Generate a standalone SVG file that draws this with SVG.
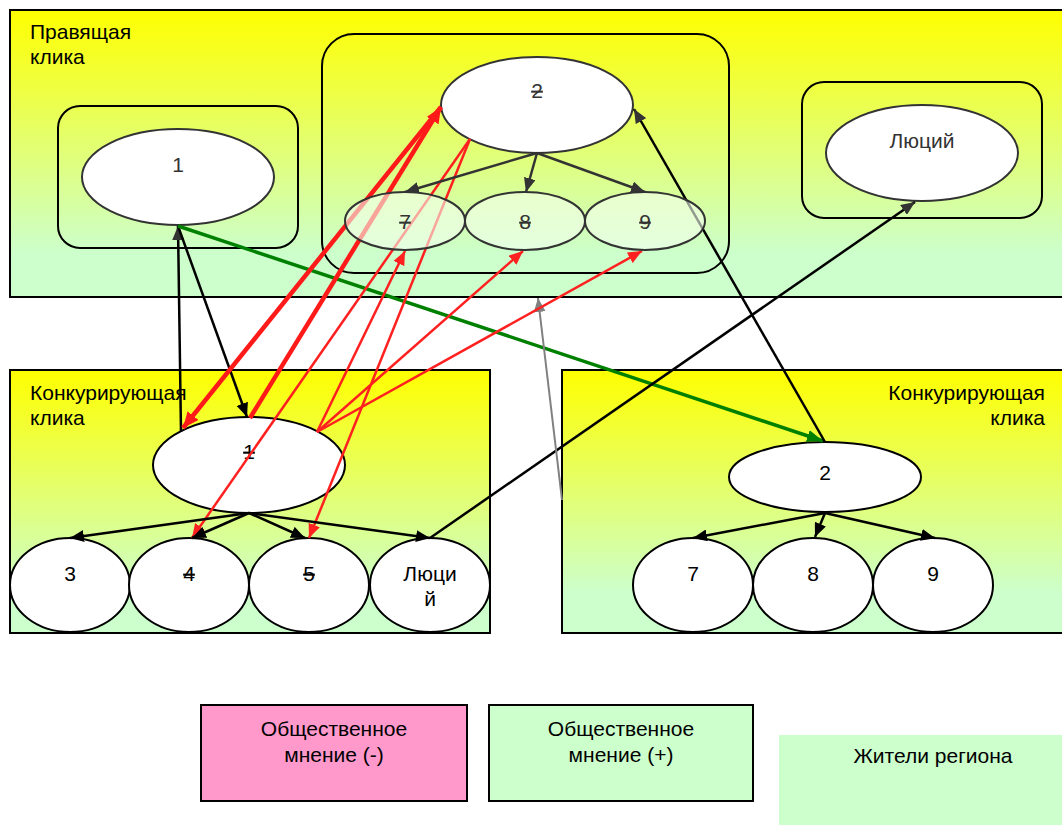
<svg xmlns="http://www.w3.org/2000/svg" width="1062" height="825" viewBox="0 0 1062 825">
<style>
text{font-family:"Liberation Sans",Arial,sans-serif;}
.panel{stroke:#000;stroke-width:2;}
.grp{fill:none;stroke:#000;stroke-width:2;}
.node{fill:#fff;stroke:#000;stroke-width:2;}
.tnode{fill:#fff;stroke:#333;stroke-width:2;}
.sub{fill:#f4ffee;fill-opacity:0.6;stroke:#333;stroke-width:2;}
.lbl{font-size:21px;fill:#000;}
.num{font-size:21px;fill:#000;text-anchor:middle;}
.gnum{font-size:21px;fill:#333;text-anchor:middle;}
.strike{text-decoration:line-through;}
.blk{stroke:#000;stroke-width:2.5;fill:none;}
.dk{stroke:#333;stroke-width:2.5;fill:none;}
.red{stroke:#ff2020;stroke-width:2.5;fill:none;}
.redT{stroke:#ff1a1a;stroke-width:4.5;fill:none;}
.leg{font-size:21px;fill:#000;text-anchor:middle;}
</style>
<defs>
<linearGradient id="gy" x1="0" y1="0" x2="0" y2="1">
<stop offset="0" stop-color="#ffff00"/>
<stop offset="0.85" stop-color="#ccffcc"/>
<stop offset="1" stop-color="#ccffcc"/>
</linearGradient>
<marker id="aB" markerUnits="userSpaceOnUse" markerWidth="14" markerHeight="12" refX="14" refY="6" orient="auto"><path d="M0,0 L14,6 L0,12 z" fill="#000"/></marker>
<marker id="aD" markerUnits="userSpaceOnUse" markerWidth="14" markerHeight="12" refX="14" refY="6" orient="auto"><path d="M0,0 L14,6 L0,12 z" fill="#333"/></marker>
<marker id="aR" markerUnits="userSpaceOnUse" markerWidth="14" markerHeight="12" refX="14" refY="6" orient="auto"><path d="M0,0 L14,6 L0,12 z" fill="#ff2020"/></marker>
<marker id="aRT" markerUnits="userSpaceOnUse" markerWidth="16" markerHeight="14" refX="16" refY="7" orient="auto"><path d="M0,0 L16,7 L0,14 z" fill="#ff1a1a"/></marker>
<marker id="aG" markerUnits="userSpaceOnUse" markerWidth="16" markerHeight="12" refX="16" refY="6" orient="auto"><path d="M0,0 L16,6 L0,12 z" fill="#008000"/></marker>
<marker id="aGr" markerUnits="userSpaceOnUse" markerWidth="14" markerHeight="12" refX="14" refY="6" orient="auto"><path d="M0,0 L14,6 L0,12 z" fill="#808080"/></marker>
</defs>

<g id="panel-ruling">
<rect class="panel" x="10" y="10" width="1060" height="287" fill="url(#gy)"/>
<text class="lbl" x="30" y="39">Правящая</text>
<text class="lbl" x="30" y="64">клика</text>
</g>
<g id="panel-rival-left">
<rect class="panel" x="10" y="370" width="480" height="263" fill="url(#gy)"/>
<text class="lbl" x="30" y="400">Конкурирующая</text>
<text class="lbl" x="30" y="425">клика</text>
</g>
<g id="panel-rival-right">
<rect class="panel" x="562" y="370" width="508" height="263" fill="url(#gy)"/>
<text class="lbl" x="1045" y="400" text-anchor="end">Конкурирующая</text>
<text class="lbl" x="1045" y="425" text-anchor="end">клика</text>
</g>

<g id="group-1"><rect class="grp" x="58" y="106" width="240" height="142" rx="22"/></g>
<g id="group-2"><rect class="grp" x="322" y="34" width="407" height="239" rx="32"/></g>
<g id="group-lucius"><rect class="grp" x="802" y="82" width="240" height="136" rx="22"/></g>

<g id="top-1"><ellipse class="tnode" cx="178" cy="177" rx="96" ry="48"/><text class="gnum" x="178" y="172">1</text></g>
<g id="top-2"><ellipse class="tnode" cx="537" cy="105" rx="96" ry="48"/><text class="gnum strike" x="537" y="98">2</text></g>
<g id="top-lucius"><ellipse class="tnode" cx="922" cy="153" rx="96" ry="48"/><text class="gnum" x="922" y="148">Люций</text></g>

<g id="left-1"><ellipse class="node" cx="249" cy="465" rx="96" ry="48"/><text class="num strike" x="249" y="459">1</text></g>
<g id="left-3"><ellipse class="node" cx="70" cy="585" rx="60" ry="47"/><text class="num" x="70" y="581">3</text></g>
<g id="left-4"><ellipse class="node" cx="189" cy="585" rx="60" ry="47"/><text class="num strike" x="189" y="581">4</text></g>
<g id="left-5"><ellipse class="node" cx="309" cy="585" rx="60" ry="47"/><text class="num strike" x="309" y="581">5</text></g>
<g id="left-lucius"><ellipse class="node" cx="430" cy="585" rx="60" ry="47"/><text class="num" x="430" y="581">Люци</text><text class="num" x="430" y="606">й</text></g>

<g id="right-2"><ellipse class="node" cx="825" cy="477" rx="96" ry="35"/><text class="num" x="825" y="480">2</text></g>
<g id="right-7"><ellipse class="node" cx="693" cy="585" rx="60" ry="47"/><text class="num" x="693" y="581">7</text></g>
<g id="right-8"><ellipse class="node" cx="813" cy="585" rx="60" ry="47"/><text class="num" x="813" y="581">8</text></g>
<g id="right-9"><ellipse class="node" cx="933" cy="585" rx="60" ry="47"/><text class="num" x="933" y="581">9</text></g>

<g id="connectors">
<line class="blk" x1="181" y1="432" x2="178" y2="226" marker-end="url(#aD)"/>
<line class="blk" x1="178" y1="226" x2="247" y2="417" marker-end="url(#aB)"/>
<line x1="178" y1="226" x2="823" y2="441" stroke="#008000" stroke-width="3.5" marker-end="url(#aG)"/>
<line class="blk" x1="825" y1="442" x2="634" y2="109" marker-end="url(#aD)"/>
<line class="blk" x1="430" y1="538" x2="915" y2="202" marker-end="url(#aD)"/>
<line x1="562" y1="500" x2="538" y2="298" stroke="#808080" stroke-width="2" marker-end="url(#aGr)"/>

<line class="redT" x1="250" y1="418" x2="441" y2="107" marker-end="url(#aRT)"/>
<line class="redT" x1="441" y1="107" x2="183" y2="428" marker-end="url(#aRT)"/>
<line class="red" x1="470" y1="139" x2="192" y2="538" marker-end="url(#aR)"/>
<line class="red" x1="470" y1="139" x2="309" y2="538" marker-end="url(#aR)"/>
<line class="red" x1="317" y1="432" x2="405" y2="251" marker-end="url(#aR)"/>
<line class="red" x1="317" y1="432" x2="523" y2="251" marker-end="url(#aR)"/>
<line class="red" x1="317" y1="432" x2="642" y2="251" marker-end="url(#aR)"/>

<line class="dk" x1="537" y1="153" x2="405" y2="192" marker-end="url(#aD)"/>
<line class="dk" x1="537" y1="153" x2="526" y2="192" marker-end="url(#aD)"/>
<line class="dk" x1="537" y1="153" x2="645" y2="192" marker-end="url(#aD)"/>

<line class="blk" x1="249" y1="513" x2="70" y2="538" marker-end="url(#aB)"/>
<line class="blk" x1="249" y1="513" x2="192" y2="538" marker-end="url(#aB)"/>
<line class="blk" x1="249" y1="513" x2="305" y2="538" marker-end="url(#aB)"/>
<line class="blk" x1="249" y1="513" x2="430" y2="538" marker-end="url(#aB)"/>

<line class="blk" x1="825" y1="513" x2="693" y2="538" marker-end="url(#aB)"/>
<line class="blk" x1="825" y1="513" x2="815" y2="537" marker-end="url(#aB)"/>
<line class="blk" x1="825" y1="513" x2="935" y2="538" marker-end="url(#aB)"/>
</g>

<g id="top-7"><ellipse class="sub" cx="405" cy="221" rx="60" ry="29"/><text class="gnum strike" x="405" y="229">7</text></g>
<g id="top-8"><ellipse class="sub" cx="525" cy="221" rx="60" ry="29"/><text class="gnum strike" x="525" y="229">8</text></g>
<g id="top-9"><ellipse class="sub" cx="645" cy="221" rx="60" ry="29"/><text class="gnum strike" x="645" y="229">9</text></g>

<g id="legend-neg"><rect x="201" y="705" width="266" height="96" fill="#ff99cc" stroke="#000" stroke-width="2"/><text class="leg" x="334" y="736">Общественное</text><text class="leg" x="334" y="762">мнение (-)</text></g>
<g id="legend-pos"><rect x="489" y="705" width="264" height="96" fill="#ccffcc" stroke="#000" stroke-width="2"/><text class="leg" x="621" y="736">Общественное</text><text class="leg" x="621" y="762">мнение (+)</text></g>
<g id="legend-residents"><rect x="779" y="735" width="283" height="90" fill="#ccffcc"/><text class="leg" x="933" y="763">Жители региона</text></g>
</svg>
